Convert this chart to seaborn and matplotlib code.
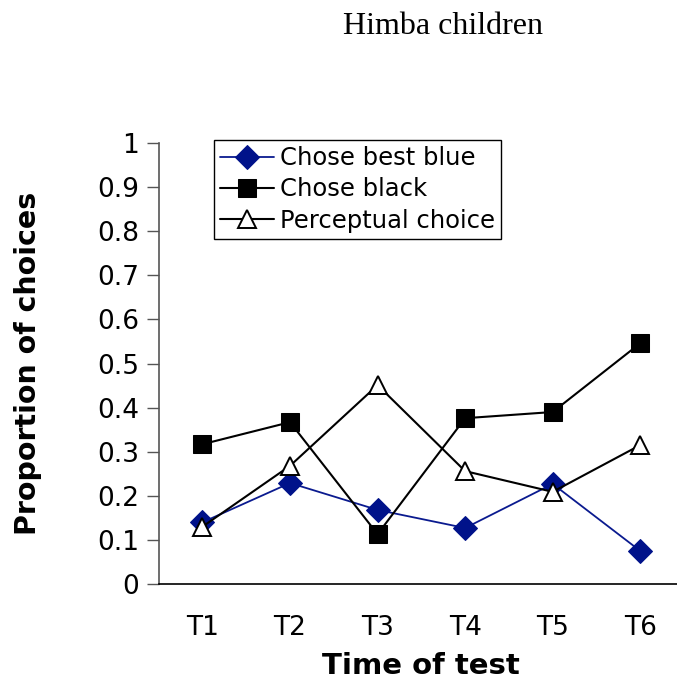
import matplotlib
matplotlib.use("Agg")
import matplotlib.pyplot as plt
import seaborn as sns
import pandas as pd

tests = ["T1", "T2", "T3", "T4", "T5", "T6"]
best_blue = [0.14, 0.229, 0.168, 0.127, 0.227, 0.075]
black = [0.317, 0.367, 0.113, 0.376, 0.39, 0.546]
perceptual = [0.13, 0.268, 0.451, 0.256, 0.209, 0.315]

df = pd.DataFrame({"Test": tests, "blue": best_blue, "black": black, "perc": perceptual})

sns.set_style("ticks")
plt.rcParams["font.family"] = ["DejaVu Sans"]
plt.rcParams["text.color"] = "black"
plt.rcParams["axes.labelcolor"] = "black"
plt.rcParams["xtick.color"] = "black"
plt.rcParams["ytick.color"] = "black"

fig = plt.figure(figsize=(6.77, 7), dpi=100)
ax = fig.add_axes([0.2344, 0.1657, 0.776, 0.63])

# series
sns.lineplot(data=df, x="Test", y="blue", ax=ax, color="#0a1a8f", lw=1.3,
             marker="D", markersize=12.5, markerfacecolor="#00128a",
             markeredgecolor="#00128a", label="Chose best blue")
sns.lineplot(data=df, x="Test", y="black", ax=ax, color="black", lw=1.5,
             marker="s", markersize=12.5, markerfacecolor="black",
             markeredgecolor="black", label="Chose black")
sns.lineplot(data=df, x="Test", y="perc", ax=ax, color="black", lw=1.5,
             marker="^", markersize=13, markerfacecolor="white",
             markeredgecolor="black", markeredgewidth=1.4, label="Perceptual choice")

ax.set_xlim(-0.5, 5.5)
ax.set_ylim(0, 1)
ax.set_yticks([i / 10 for i in range(11)])
ax.set_yticklabels(["0"] + ["0.%d" % i for i in range(1, 10)] + ["1"])
ax.tick_params(axis="y", length=9, width=1, labelsize=19, pad=5, color="#555555")
ax.tick_params(axis="x", length=0, labelsize=19, pad=22)

sns.despine(ax=ax)
ax.spines["left"].set_color("#555555")
ax.spines["left"].set_linewidth(1.2)
ax.spines["bottom"].set_color("black")
ax.spines["bottom"].set_linewidth(1.2)

ax.set_xlabel("Time of test", fontsize=21, fontweight="bold", labelpad=8)
ax.set_ylabel("Proportion of choices", fontsize=20.5, fontweight="bold", labelpad=40)

leg = ax.legend(loc="upper left", bbox_to_anchor=(214 / 677, 1 - 140 / 700),
                bbox_transform=fig.transFigure, fontsize=17.5, frameon=True,
                fancybox=False, framealpha=1, edgecolor="black",
                handlelength=2.2, borderpad=0.25, labelspacing=0.3,
                handletextpad=0.25, borderaxespad=0, markerscale=1.0)
leg.get_frame().set_linewidth(1.0)

fig.text(443 / 677, 1 - 26 / 700, "Himba children", ha="center", va="center",
         fontsize=23, family=["Liberation Serif"])

fig.savefig("out.png", dpi=100)
